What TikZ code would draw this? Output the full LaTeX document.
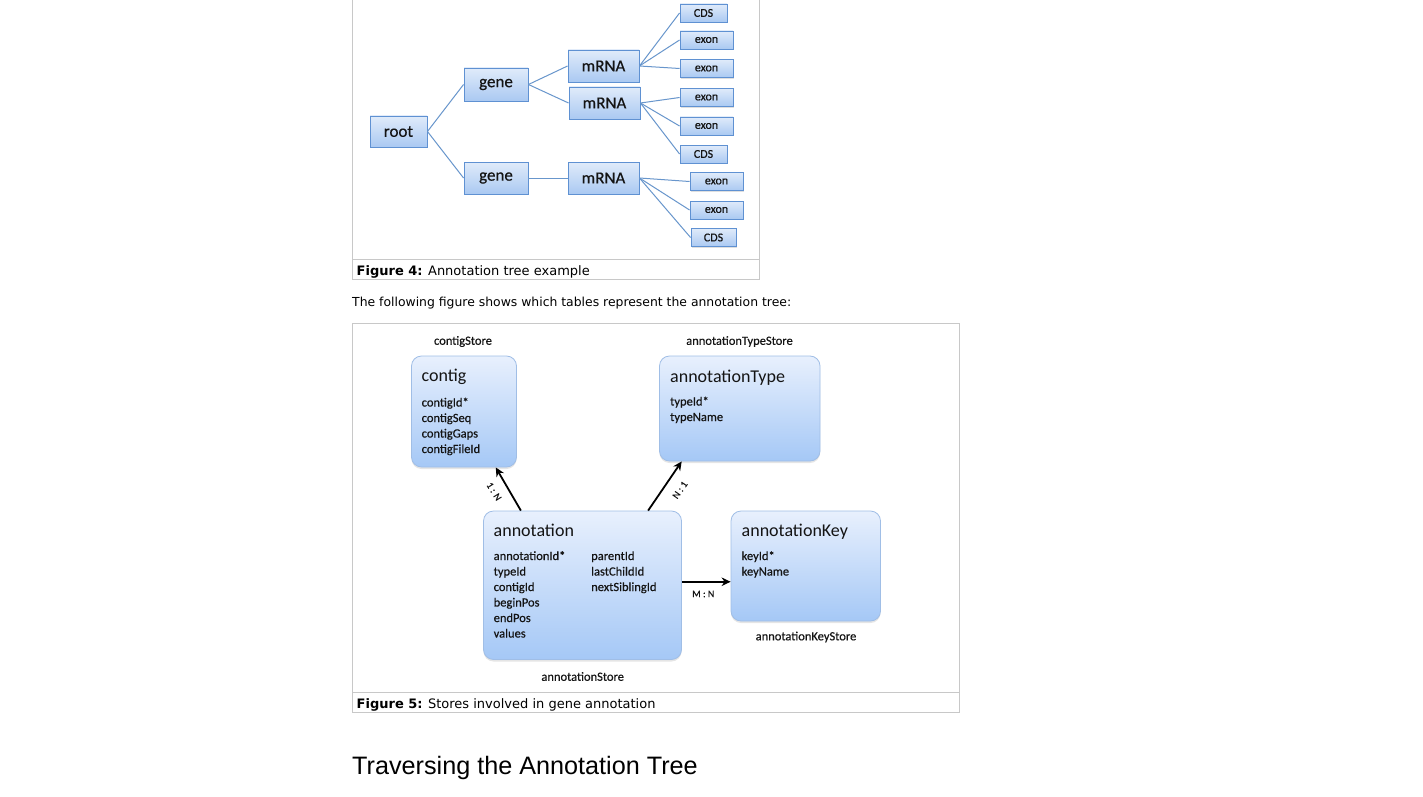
\documentclass[tikz,border=0pt]{standalone}
\usepackage{fontspec}
\newfontfamily\calfont{Carlito}
\newfontfamily\calmed{Carlito}[FakeBold=0.45]
\newfontfamily\verdfont{DejaVu Sans}
\newfontfamily\arialfont{Liberation Sans}
\usetikzlibrary{shadows,calc,arrows.meta,shadings}
\definecolor{treeline}{RGB}{104,150,204}
\definecolor{treeborder}{RGB}{95,145,210}
\definecolor{treetop}{RGB}{224,235,250}
\definecolor{treebot}{RGB}{170,201,242}
\definecolor{boxborder}{RGB}{160,190,230}
\definecolor{boxtop}{RGB}{232,240,253}
\definecolor{boxbot}{RGB}{165,200,246}
\definecolor{framec}{RGB}{200,200,200}
\definecolor{txt}{RGB}{20,20,20}
\tikzset{
 tbox/.style={draw=treeborder, line width=0.9pt, top color=treetop, bottom color=treebot, inner sep=0pt, text=txt,
   drop shadow={shadow xshift=1.2pt, shadow yshift=-1.2pt, opacity=0.25}},
 big/.style={tbox, minimum width=71pt, minimum height=32pt, font=\calmed\fontsize{17}{20}\selectfont},
 small/.style={tbox, minimum width=53pt, minimum height=18pt, font=\calmed\fontsize{12}{14}\selectfont},
 tline/.style={draw=treeline, line width=1pt},
 store/.style={draw=boxborder, line width=0.8pt, rounded corners=10pt, top color=boxtop, bottom color=boxbot, inner sep=0pt,
   drop shadow={shadow xshift=0pt, shadow yshift=-2pt, opacity=0.2}},
 title/.style={anchor=base west, inner sep=0pt, text=txt, font=\calfont\fontsize{18}{20}\selectfont},
 field/.style={anchor=base west, inner sep=0pt, text=txt, font=\calmed\fontsize{12.5}{15}\selectfont},
 storelbl/.style={inner sep=0pt, text=txt, font=\calmed\fontsize{12.5}{15}\selectfont},
 rel/.style={line width=1.8pt, -{Stealth[length=9pt,width=8.5pt]}},
 rellbl/.style={inner sep=0pt, text=txt, font=\calmed\fontsize{10}{12}\selectfont},
 frame/.style={draw=framec, line width=1pt},
 webtext/.style={anchor=base west, inner sep=0pt, text=black, font=\verdfont\fontsize{12.4}{15}\selectfont},
 captext/.style={anchor=base west, inner sep=0pt, text=black, font=\verdfont\fontsize{13}{15}\selectfont},
}
\begin{document}
\begin{tikzpicture}[x=1pt,y=-1pt]
\fill[white] (0,0) rectangle (1423,797);
\useasboundingbox (0,0) rectangle (1423,797);

% ---------- Figure 4 frame ----------
\draw[frame] (352.5,-2) rectangle (759.5,279.5);
\draw[frame] (352.5,259.5) -- (759.5,259.5);
\node[captext] (cap4) at (356.5,275) {\textbf{Figure 4:} Annotation tree example};

% ---------- tree ----------
\node[big, minimum width=57pt, minimum height=31pt] (root) at (398.5,131.5) {root};
\node[big, minimum width=64pt, minimum height=33pt] (gene1) at (496,84.5) {gene};
\node[big, minimum width=64pt] (gene2) at (496,178) {gene};
\node[big] (mrna1) at (603.5,66) {mRNA};
\node[big] (mrna2) at (604.5,103) {mRNA};
\node[big] (mrna3) at (603.5,178) {mRNA};
\node[small, minimum width=47pt] (cds1) at (703.5,13) {CDS};
\node[small] (ex1) at (706.5,40) {exon};
\node[small] (ex2) at (706.5,68.5) {exon};
\node[small] (ex3) at (706.5,97.5) {exon};
\node[small] (ex4) at (706.5,126) {exon};
\node[small, minimum width=47pt] (cds2) at (703.5,154) {CDS};
\node[small] (ex5) at (716.5,181.5) {exon};
\node[small] (ex6) at (716.5,210) {exon};
\node[small, minimum width=45pt] (cds3) at (713.5,237.5) {CDS};

\draw[tline] (root.east) -- (gene1.west);
\draw[tline] (root.east) -- (gene2.west);
\draw[tline] (gene1.east) -- (mrna1.west);
\draw[tline] (gene1.east) -- (mrna2.west);
\draw[tline] (gene2.east) -- (mrna3.west);
\draw[tline] (mrna1.east) -- (cds1.west);
\draw[tline] (mrna1.east) -- (ex1.west);
\draw[tline] (mrna1.east) -- (ex2.west);
\draw[tline] (mrna2.east) -- (ex3.west);
\draw[tline] (mrna2.east) -- (ex4.west);
\draw[tline] (mrna2.east) -- (cds2.west);
\draw[tline] (mrna3.east) -- (ex5.west);
\draw[tline] (mrna3.east) -- (ex6.west);
\draw[tline] (mrna3.east) -- (cds3.west);

% ---------- text between ----------
\node[webtext] (intro) at (352,306.5) {The following figure shows which tables represent the annotation tree:};

% ---------- Figure 5 frame ----------
\draw[frame] (352.5,323.5) rectangle (959.5,712.5);
\draw[frame] (352.5,692.5) -- (959.5,692.5);
\node[captext] (cap5) at (356.5,708) {\textbf{Figure 5:} Stores involved in gene annotation};

% ---------- stores ----------
\node[store, minimum width=105pt, minimum height=111pt] (contig) at (464,411.5) {};
\node[store, minimum width=160.5pt, minimum height=105pt] (atype) at (739.75,408.5) {};
\node[store, minimum width=198pt, minimum height=148.5pt] (annot) at (582.5,585.25) {};
\node[store, minimum width=149.5pt, minimum height=110pt] (akey) at (805.75,566) {};

\node[storelbl] (contigstore) at (463,341.5) {contigStore};
\node[storelbl] (atypestore) at (739.5,341.5) {annotationTypeStore};
\node[storelbl] (annotstore) at (582.7,676.5) {annotationStore};
\node[storelbl] (akeystore) at (806,637) {annotationKeyStore};

\node[title] (contigT) at (421.5,381.5) {contig};
\foreach \t [count=\i] in {contigId*,contigSeq,contigGaps,contigFileId}
  \node[field] (cf\i) at (421.5,{406.5+15.5*(\i-1)}) {\t};

\node[title] (atypeT) at (670,382) {annotationType};
\foreach \t [count=\i] in {typeId*,typeName}
  \node[field] (tf\i) at (670,{405.5+15.5*(\i-1)}) {\t};

\node[title] (annotT) at (493.5,536) {annotation};
\foreach \t [count=\i] in {annotationId*,typeId,contigId,beginPos,endPos,values}
  \node[field] (af\i) at (493.5,{560+15.5*(\i-1)}) {\t};
\foreach \t [count=\i] in {parentId,lastChildId,nextSiblingId}
  \node[field] (ar\i) at (591,{560+15.5*(\i-1)}) {\t};

\node[title] (akeyT) at (741.5,536) {annotationKey};
\foreach \t [count=\i] in {keyId*,keyName}
  \node[field] (kf\i) at (741.5,{560+15.5*(\i-1)}) {\t};

% ---------- relations ----------
\draw[rel] ($(annot.north west)!0.19!(annot.north east)$) -- ($(contig.south west)!0.8!(contig.south east)$);
\draw[rel] ($(annot.north west)!0.83!(annot.north east)$) -- ($(atype.south west)!0.14!(atype.south east)$);
\coordinate (m1) at ($(annot.east)+(0,-3.5)$);
\draw[rel] (m1) -- (m1 -| akey.west);

\node[rellbl, rotate=-58] (l1) at (494,491.5) {1 : N};
\node[rellbl, rotate=55] (l2) at (680,490) {N : 1};
\node[rellbl] (l3) at (703.3,594) {M : N};

% ---------- heading ----------
\node[anchor=base west, inner sep=0pt, font=\arialfont\fontsize{25.2}{30}\selectfont] (head) at (352,774) {Traversing the Annotation Tree};
\end{tikzpicture}
\end{document}
